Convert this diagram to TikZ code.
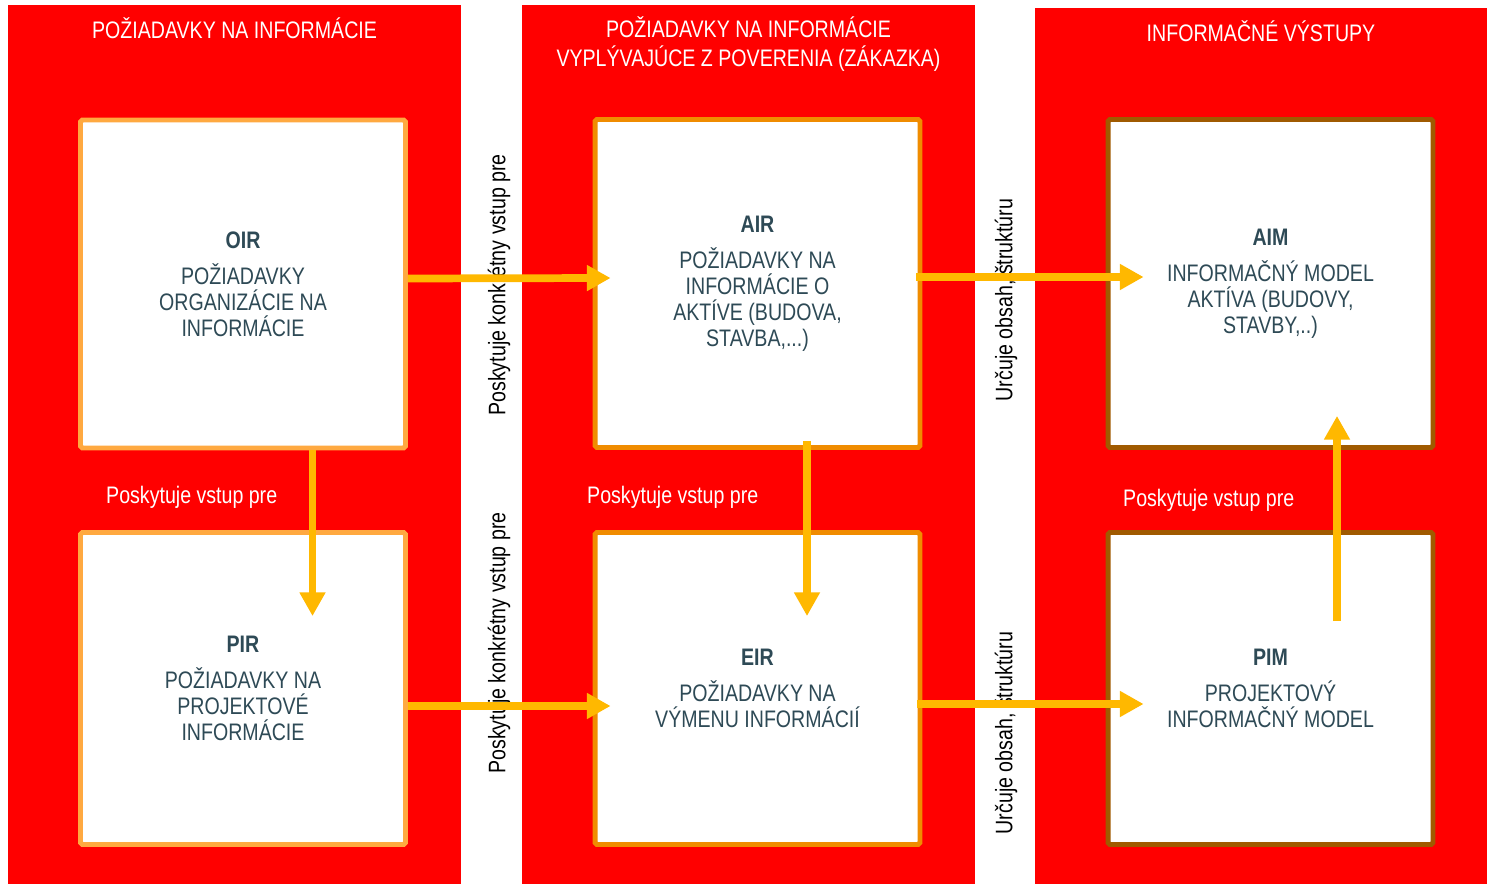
\documentclass[tikz,border=0pt]{standalone}
\usepackage{fontspec}
\setmainfont[FakeStretch=0.82]{Liberation Sans}
\usetikzlibrary{calc,arrows.meta}

\definecolor{colred}{HTML}{FF0000}
\definecolor{flowcol}{HTML}{FFB800}
\definecolor{edgeA}{HTML}{FFA940}
\definecolor{edgeB}{HTML}{F08C00}
\definecolor{edgeC}{HTML}{A05A00}
\definecolor{boxtext}{HTML}{2E4A56}

\begin{document}
\begin{tikzpicture}[x=0.02cm,y=-0.02cm]
\tikzstyle{box}=[draw,fill=white,line width=2.8pt,rounded corners=1pt,align=center,text=boxtext,minimum width=6.5cm,font=\fontsize{13.6pt}{14.7pt}\selectfont]
\tikzstyle{head}=[text=white,align=center,font=\fontsize{13.6pt}{16.4pt}\selectfont]
\tikzstyle{note}=[font=\fontsize{13.6pt}{14.7pt}\selectfont]
\tikzstyle{flow}=[line width=4.4pt,draw=flowcol,-{Triangle[length=13.5pt,width=14pt]}]

\useasboundingbox (0,0) rectangle (1487,884);

% columns
\fill [colred] (8,5) rectangle (461,884);
\fill [colred] (522,5) rectangle (975,884);
\fill [colred] (1035,8) rectangle (1487,884);

\node (hdr1) [head] at (234.5,28) {POŽIADAVKY NA INFORMÁCIE};
\node (hdr2) [head] at (748.5,44) {POŽIADAVKY NA INFORMÁCIE\\VYPLÝVAJÚCE Z POVERENIA (ZÁKAZKA)};
\node (hdr3) [head] at (1261,31) {INFORMAČNÉ VÝSTUPY};

\node (OIR) [box,draw=edgeA,minimum height=6.56cm] at (243,284) {\textbf{OIR}\\[6pt]POŽIADAVKY\\ORGANIZÁCIE NA\\INFORMÁCIE};
\node (PIR) [box,draw=edgeA,minimum height=6.24cm] at (243,688.5) {\textbf{PIR}\\[6pt]POŽIADAVKY NA\\PROJEKTOVÉ\\INFORMÁCIE};
\node (AIR) [box,draw=edgeB,minimum height=6.56cm] at (757.5,283.5) {\textbf{AIR}\\[6pt]POŽIADAVKY NA\\INFORMÁCIE O\\AKTÍVE (BUDOVA,\\STAVBA,...)};
\node (EIR) [box,draw=edgeB,minimum height=6.24cm] at (757.5,688.5) {\textbf{EIR}\\[6pt]POŽIADAVKY NA\\VÝMENU INFORMÁCIÍ};
\node (AIM) [box,draw=edgeC,minimum height=6.56cm] at (1270.5,283.5) {\textbf{AIM}\\[6pt]INFORMAČNÝ MODEL\\AKTÍVA (BUDOVY,\\STAVBY,..)};
\node (PIM) [box,draw=edgeC,minimum height=6.24cm] at (1270.5,688.5) {\textbf{PIM}\\[6pt]PROJEKTOVÝ\\INFORMAČNÝ MODEL};

\node (in1) [note,text=white,anchor=west] at (100,497) {Poskytuje vstup pre};
\node (in2) [note,text=white,anchor=west] at (581,497) {Poskytuje vstup pre};
\node (in3) [note,text=white,anchor=west] at (1117,500) {Poskytuje vstup pre};

\node (gives1) [note,rotate=90] at (499,285) {Poskytuje konkrétny vstup pre};
\node (gives2) [note,rotate=90] at (499,643) {Poskytuje konkrétny vstup pre};
\node (sets1) [note,rotate=90] at (1006,300) {Určuje obsah, štruktúru};
\node (sets2) [note,rotate=90] at (1006,733) {Určuje obsah, štruktúru};

\draw [flow] ($(OIR.east)+(0,-5.5)$) -- ($(AIR.west)+(18,-5.5)$);
\draw [flow] ($(AIR.east)+(-6,-6.5)$) -- ($(AIM.west)+(38,-6.5)$);
\draw [flow] ($(PIR.east)+(0,17.5)$) -- ($(EIR.west)+(18,17.5)$);
\draw [flow] ($(EIR.east)+(-5,15.5)$) -- ($(PIM.west)+(38,15.5)$);
\draw [flow] ($(OIR.south)+(69.5,0)$) -- ($(PIR.north)+(69.5,86)$);
\draw [flow] ($(AIR.south)+(49.5,-9)$) -- ($(EIR.north)+(49.5,86)$);
\draw [flow] ($(PIM.north)+(66.5,91)$) -- ($(AIM.south)+(66.5,-34)$);

\end{tikzpicture}
\end{document}
